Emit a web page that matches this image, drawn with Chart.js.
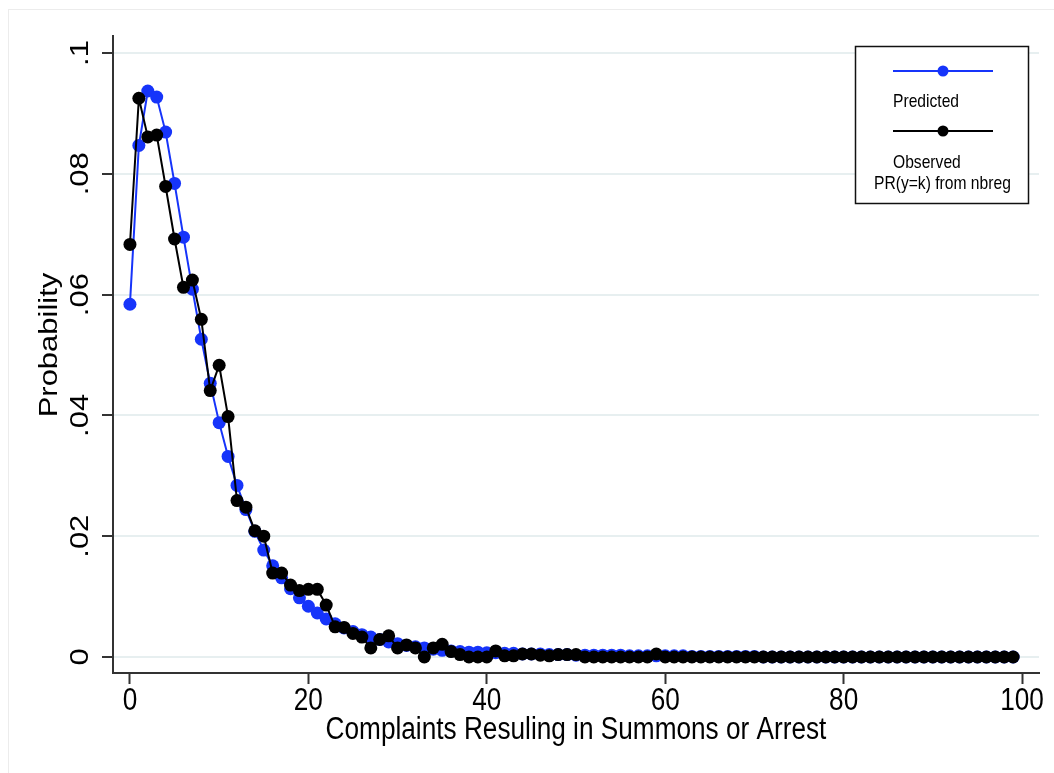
<!DOCTYPE html>
<html>
<head>
<meta charset="utf-8">
<script src="https://cdn.jsdelivr.net/npm/chart.js@4/dist/chart.umd.min.js"></script>
<style>
  html, body { margin: 0; padding: 0; background: #ffffff; }
  #wrap { width: 1054px; height: 773px; }
</style>
</head>
<body>
<div id="wrap"><canvas id="c" width="1054" height="773"></canvas></div>
<script>
// Probability of k complaints (k = 0..99)
const predicted = [
  0.0584, 0.0847, 0.0937, 0.0927, 0.0869, 0.0784, 0.0695, 0.0609, 0.0526, 0.0453,
  0.0388, 0.0332, 0.0284, 0.0244, 0.0208, 0.0177, 0.0151, 0.0131, 0.0113, 0.0098,
  0.0084, 0.0073, 0.0063, 0.0055, 0.0048, 0.0042, 0.0037, 0.0033, 0.0029, 0.0025,
  0.0022, 0.0019, 0.0017, 0.0015, 0.0013, 0.0011, 0.0010, 0.0009, 0.0008, 0.0008,
  0.0007, 0.0007, 0.0006, 0.0006, 0.0005, 0.0005, 0.0005, 0.0004, 0.0004, 0.0004,
  0.0003, 0.0003, 0.0003, 0.0003, 0.0003, 0.0003, 0.0002, 0.0002, 0.0002, 0.0002,
  0.0002, 0.0002, 0.0002, 0.0001, 0.0001, 0.0001, 0.0001, 0.0001, 0.0001, 0.0001,
  0.0001, 0, 0, 0, 0, 0, 0, 0, 0, 0,
  0, 0, 0, 0, 0, 0, 0, 0, 0, 0,
  0, 0, 0, 0, 0, 0, 0, 0, 0, 0
];
const observed = [
  0.0683, 0.0925, 0.0861, 0.0864, 0.0779, 0.0692, 0.0612, 0.0624, 0.0559, 0.0441,
  0.0483, 0.0398, 0.0259, 0.0248, 0.0209, 0.0200, 0.0139, 0.0139, 0.0119, 0.0110,
  0.0112, 0.0112, 0.0086, 0.0050, 0.0049, 0.0039, 0.0033, 0.0015, 0.0029, 0.0035,
  0.0015, 0.0020, 0.0015, 0.0000, 0.0015, 0.0021, 0.0009, 0.0004, 0, 0,
  0, 0.0010, 0.0002, 0.0002, 0.0005, 0.0005, 0.0003, 0.0002, 0.0004, 0.0004,
  0.0004, 0, 0, 0, 0, 0, 0, 0, 0, 0.0005,
  0, 0, 0, 0, 0, 0, 0, 0, 0, 0,
  0, 0, 0, 0, 0, 0, 0, 0, 0, 0,
  0, 0, 0, 0, 0, 0, 0, 0, 0, 0,
  0, 0, 0, 0, 0, 0, 0, 0, 0, 0
];
const xTicks = [0, 20, 40, 60, 80, 100];
const yTicks = [0, 0.02, 0.04, 0.06, 0.08, 0.1];
const xTitle = 'Complaints Resuling in Summons or Arrest';
const yTitle = 'Probability';
const legendLines = ['Predicted', 'Observed', 'PR(y=k) from nbreg'];

const BLUE = 'rgb(22, 52, 250)';
const BLACK = '#000000';
const AXIS = '#333333';
const GRID = '#e7eff0';
const FONT = '"Liberation Sans", Arial, Helvetica, sans-serif';
const SQUEEZE = 0.845;   // horizontal squeeze applied to every text run

const toPoints = arr => arr.map((v, k) => ({ x: k, y: v }));
const fmtY = v => (v === 0 ? '0' : String(+v.toFixed(2)).replace(/^0/, ''));

// draws one text run, narrowed horizontally; vertical runs read bottom-to-top
function putText(ctx, text, x, y, size, opts) {
  const o = opts || {};
  ctx.save();
  ctx.translate(x, y);
  ctx.scale(SQUEEZE, 1);
  if (o.vertical) ctx.rotate(-Math.PI / 2);
  ctx.font = size + 'px ' + FONT;
  ctx.fillStyle = '#000';
  ctx.textAlign = o.align || 'center';
  ctx.textBaseline = 'middle';
  ctx.fillText(text, 0, 0);
  ctx.restore();
}

// page background + faint outer frame, axis texts, legend box
const decor = {
  id: 'decor',
  beforeDraw(chart) {
    const ctx = chart.ctx;
    ctx.save();
    ctx.fillStyle = '#ffffff';
    ctx.fillRect(0, 0, chart.width, chart.height);
    ctx.strokeStyle = '#ececec';
    ctx.lineWidth = 1;
    ctx.strokeRect(8.5, 9.5, chart.width + 10, chart.height + 10);
    ctx.restore();
  },
  afterDraw(chart) {
    const ctx = chart.ctx;
    const xs = chart.scales.x;
    const ys = chart.scales.y;
    const area = chart.chartArea;

    ys.ticks.forEach(t => {
      putText(ctx, fmtY(t.value), 81, ys.getPixelForValue(t.value), 31, { vertical: true });
    });
    xs.ticks.forEach(t => {
      putText(ctx, String(t.value), xs.getPixelForValue(t.value), 701, 31);
    });
    putText(ctx, xTitle, (area.left + area.right) / 2, 730, 31);
    putText(ctx, yTitle, 50, 345, 31, { vertical: true });

    // legend
    const L = 855, T = 46, R = 1029, B = 204;
    ctx.save();
    ctx.fillStyle = '#ffffff';
    ctx.fillRect(L, T, R - L, B - T);
    ctx.strokeStyle = '#111';
    ctx.lineWidth = 1.5;
    ctx.strokeRect(L + 0.5, T + 0.5, R - L - 1, B - T - 1);
    const key = (y, color) => {
      ctx.strokeStyle = color;
      ctx.lineWidth = 2;
      ctx.beginPath();
      ctx.moveTo(893, y);
      ctx.lineTo(993, y);
      ctx.stroke();
      ctx.fillStyle = color;
      ctx.beginPath();
      ctx.arc(943, y, 5.5, 0, Math.PI * 2);
      ctx.fill();
    };
    key(71, BLUE);
    key(131, BLACK);
    ctx.restore();
    putText(ctx, legendLines[0], 893, 102, 18.5, { align: 'left' });
    putText(ctx, legendLines[1], 893, 163, 18.5, { align: 'left' });
    putText(ctx, legendLines[2], 874, 184, 18.5, { align: 'left' });
  }
};

new Chart(document.getElementById('c'), {
  type: 'line',
  data: {
    datasets: [
      {
        label: legendLines[1],
        data: toPoints(observed),
        borderColor: BLACK,
        backgroundColor: BLACK,
        borderWidth: 2,
        pointRadius: 6.5,
        pointBorderWidth: 0,
        pointBackgroundColor: BLACK,
        tension: 0,
        order: 0
      },
      {
        label: legendLines[0],
        data: toPoints(predicted),
        borderColor: BLUE,
        backgroundColor: BLUE,
        borderWidth: 2,
        pointRadius: 6.5,
        pointBorderWidth: 0,
        pointBackgroundColor: BLUE,
        tension: 0,
        order: 1
      }
    ]
  },
  options: {
    responsive: false,
    animation: false,
    devicePixelRatio: 1,
    layout: { padding: { left: 0, right: 15, top: 36, bottom: 0 } },
    plugins: { legend: { display: false }, tooltip: { enabled: false } },
    scales: {
      x: {
        type: 'linear',
        min: -1.9,
        max: 101.9,
        afterBuildTicks: s => { s.ticks = xTicks.map(v => ({ value: v })); },
        afterFit: s => { s.height = 100; },
        ticks: {
          color: 'rgba(0,0,0,0)',
          font: { family: FONT, size: 26 },
          maxRotation: 0,
          callback: v => String(v)
        },
        grid: {
          drawOnChartArea: false,
          drawTicks: true,
          tickLength: 11,
          tickColor: AXIS,
          tickWidth: 2
        },
        border: { color: AXIS, width: 2 },
        title: { display: false, text: xTitle }
      },
      y: {
        type: 'linear',
        min: -0.00265,
        max: 0.10281,
        afterBuildTicks: s => { s.ticks = yTicks.map(v => ({ value: v })); },
        afterFit: s => { s.width = 113; },
        ticks: {
          color: 'rgba(0,0,0,0)',
          font: { family: FONT, size: 26 },
          callback: v => fmtY(v)
        },
        grid: {
          color: GRID,
          lineWidth: 2,
          drawTicks: true,
          tickLength: 11,
          tickColor: AXIS,
          tickWidth: 2
        },
        border: { color: AXIS, width: 2 },
        title: { display: false, text: yTitle }
      }
    }
  },
  plugins: [decor]
});
</script>
</body>
</html>
